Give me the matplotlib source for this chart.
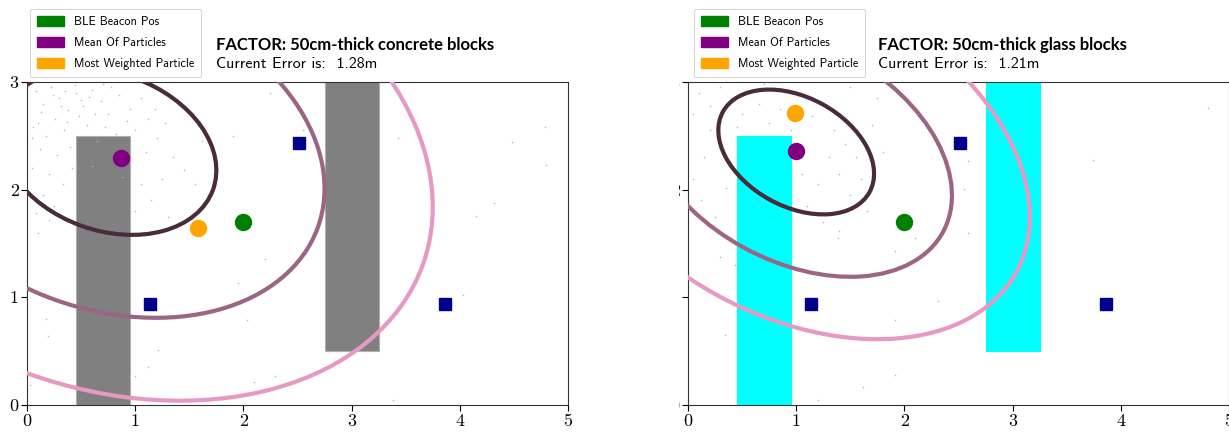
import numpy as np
import matplotlib
matplotlib.use("Agg")
import matplotlib.pyplot as plt
import matplotlib.patches as mpatches
from matplotlib.transforms import Bbox, TransformedBbox

# ---------------- data ----------------
panel_titles = ["FACTOR: 50cm-thick concrete blocks", "FACTOR: 50cm-thick glass blocks"]
panel_errors = ["Current Error is:  1.28m", "Current Error is:  1.21m"]
block_colors = ["gray", "cyan"]

# blocks: (x, y, width, height)
blocks = [(0.45, 0.0, 0.5, 2.5), (2.75, 0.5, 0.5, 2.5)]

beacons_x = [1.14, 2.51, 3.86]
beacons_y = [0.94, 2.43, 0.94]

ble_pos = (2.0, 1.70)
mean_particles = [(0.87, 2.29), (1.0, 2.36)]
most_weighted = [(1.58, 1.64), (0.99, 2.71)]

# covariance ellipses (center, covariance), drawn at n_std
ell_center = [(0.75, 2.35), (1.0, 2.35)]
ell_cov = [[[1.0, -0.17], [-0.17, 0.593]],
           [[0.518, -0.145], [-0.145, 0.336]]]
n_std = [1, 2, 3]
ell_colors = ["#4a2b3c", "#9b6684", "#e699c3"]

particles_left_x = [0.08, 0.15, 0.22, 0.30, 0.38, 0.45, 0.52, 0.60, 0.68, 0.75, 0.85, 0.95, 1.05, 1.12,
                    0.10, 0.18, 0.26, 0.34, 0.40, 0.28, 0.12, 0.05, 0.20, 0.33, 0.15, 0.08, 0.25, 0.42,
                    0.55, 0.65, 0.72, 0.82, 0.95, 1.00, 1.10, 1.20, 1.28, 1.35, 1.45, 1.25, 1.05, 1.15,
                    1.55, 1.62, 0.60, 0.88, 0.48, 0.35, 0.70, 1.40, 0.10, 0.20, 1.00, 1.30, 0.05,
                    0.13, 0.24, 0.37, 0.50, 0.63, 0.78, 0.92, 1.18, 0.06, 0.31, 0.44, 0.57,
                    3.43, 4.48, 4.79, 4.80, 4.32, 4.15, 4.03, 3.38, 2.20, 1.95, 2.03, 0.18, 0.19, 1.21,
                    1.12, 1.00, 2.10, 2.29, 0.03, 2.55, 2.25, 1.90]
particles_left_y = [2.92, 2.80, 2.95, 2.85, 2.74, 2.90, 2.78, 2.93, 2.82, 2.70, 2.88, 2.75, 2.85, 2.66,
                    2.62, 2.50, 2.66, 2.55, 2.40, 2.32, 2.38, 2.20, 2.15, 2.05, 1.95, 1.78, 1.85, 2.20,
                    2.60, 2.45, 2.58, 2.52, 2.40, 2.55, 2.35, 2.48, 2.62, 2.30, 2.18, 2.10, 2.05, 1.90,
                    2.05, 2.45, 2.22, 2.12, 2.68, 2.92, 2.98, 2.80, 1.60, 1.72, 1.80, 1.75, 2.48,
                    2.72, 2.88, 2.63, 2.83, 2.70, 2.95, 2.64, 2.75, 2.58, 2.78, 2.97, 2.86,
                    2.48, 2.44, 2.58, 2.23, 1.88, 1.76, 1.02, 0.05, 1.36, 1.13, 0.79, 0.80, 0.64, 0.51,
                    0.35, 0.27, 0.21, 0.27, 0.19, 2.55, 2.90, 2.50]
particles_right_x = [0.10, 0.20, 0.30, 0.40, 0.50, 0.58, 0.66, 0.75, 0.85, 0.95, 1.05, 1.15, 1.25, 1.35,
                     1.45, 1.55, 1.60, 1.50, 1.40, 1.30, 1.20, 1.10, 1.25, 0.30, 0.20, 0.15, 0.40, 0.35,
                     0.55, 0.62, 0.05, 0.12, 0.25, 1.70, 1.80, 1.65, 1.40, 0.45, 0.90, 1.05, 0.80, 1.75,
                     0.70, 1.50, 0.05,
                     0.30, 0.43, 0.34, 1.91, 1.39, 2.10, 1.91, 1.91, 1.62, 1.20, 2.31, 4.81, 3.74, 2.59,
                     2.55, 2.59]
particles_right_y = [2.90, 2.78, 2.95, 2.85, 2.70, 2.92, 2.80, 2.62, 2.75, 2.55, 2.88, 2.68, 2.80, 2.55,
                     2.42, 2.30, 2.10, 1.95, 2.15, 2.30, 2.05, 1.85, 1.70, 2.40, 2.55, 2.30, 2.20, 2.02,
                     2.45, 2.25, 2.10, 1.90, 1.75, 2.60, 2.35, 1.80, 1.62, 2.58, 2.20, 2.15, 1.95, 2.85,
                     2.98, 2.95, 2.70,
                     1.37, 1.30, 0.65, 1.43, 1.55, 1.55, 0.79, 0.28, 0.17, 0.05, 0.97, 2.76, 2.28, 2.27,
                     2.01, 1.60]
particles_x = [particles_left_x, particles_right_x]
particles_y = [particles_left_y, particles_right_y]

x_ticks = [0, 1, 2, 3, 4, 5]
y_ticks = [0, 1, 2, 3]
legend_labels = ["BLE Beacon Pos", "Mean Of Particles", "Most Weighted Particle"]
legend_colors = ["green", "purple", "orange"]

# ---------------- figure ----------------
W, H = 1229, 432
fig = plt.figure(figsize=(W / 100, H / 100), dpi=100)

ax_left_px = [27, 688]
ax_w_px, ax_bottom_px, ax_h_px = 541, 432 - 405, 323
title_x_px = [216, 878]
legend_x_px = [30, 694]

def cov_ellipse(ax, center, cov, k, color):
    vals, vecs = np.linalg.eigh(np.array(cov))
    order = vals.argsort()[::-1]
    vals, vecs = vals[order], vecs[:, order]
    angle = np.degrees(np.arctan2(vecs[1, 0], vecs[0, 0]))
    w, h = 2 * k * np.sqrt(vals)
    e = mpatches.Ellipse(center, w, h, angle=angle, fill=False, edgecolor=color, lw=3.0, zorder=3)
    ax.add_patch(e)

for i in range(2):
    ax = fig.add_axes([ax_left_px[i] / W, ax_bottom_px / H, ax_w_px / W, ax_h_px / H])
    for (bx, by, bw, bh) in blocks:
        ax.add_patch(mpatches.Rectangle((bx, by), bw, bh, facecolor=block_colors[i],
                                        edgecolor="#b0b0b0" if i == 0 else block_colors[i],
                                        lw=0.8, zorder=1))
    ax.scatter(particles_x[i], particles_y[i], s=1.5, color="#8fbbe3", alpha=0.8, lw=0, zorder=2)
    for k, c in zip(n_std, ell_colors):
        cov_ellipse(ax, ell_center[i], ell_cov[i], k, c)
    ax.plot(beacons_x, beacons_y, "s", color="#00008b", markersize=8.5, zorder=4, ls="none")
    ax.plot([ble_pos[0]], [ble_pos[1]], "o", color="green", markersize=11.5, zorder=5)
    ax.plot([mean_particles[i][0]], [mean_particles[i][1]], "o", color="purple", markersize=11.5, zorder=5)
    ax.plot([most_weighted[i][0]], [most_weighted[i][1]], "o", color="orange", markersize=11.5, zorder=5)

    ax.set_xlim(0, 5)
    ax.set_ylim(0, 3)
    ax.set_xticks(x_ticks)
    ax.set_yticks(y_ticks)
    ax.set_xticklabels([str(t) for t in x_ticks], fontfamily="cmr10", fontsize=13)
    ax.set_yticklabels([str(t) for t in y_ticks], fontfamily="cmr10", fontsize=13)
    ax.tick_params(direction="out", length=4, width=0.8, pad=2)
    for sp in ax.spines.values():
        sp.set_linewidth(0.8)
        sp.set_color("#333333")

    if i == 1:
        clip = TransformedBbox(Bbox([[679 / W, 0], [1.0, 1.0]]), fig.transFigure)
        for lab in ax.get_yticklabels():
            lab.set_clip_box(clip)
            lab.set_clip_on(True)

    handles = [mpatches.Patch(color=c, label=l) for c, l in zip(legend_colors, legend_labels)]
    leg = fig.legend(handles=handles, loc="upper left",
                     bbox_to_anchor=(legend_x_px[i] / W, 1 - 9 / H),
                     prop={"family": "cmss10", "size": 8.7}, frameon=True,
                     handlelength=2.2, handleheight=0.9, handletextpad=0.8,
                     labelspacing=0.72, borderpad=0.6, borderaxespad=0.0, fancybox=True)
    leg.get_frame().set_edgecolor("#cccccc")
    leg.get_frame().set_linewidth(0.8)

    fig.text(title_x_px[i] / W, 1 - 45 / H, panel_titles[i], fontfamily="Lato",
             fontweight="bold", fontsize=12, va="center", ha="left")
    fig.text(title_x_px[i] / W, 1 - 64 / H, panel_errors[i], fontfamily="cmss10",
             fontsize=11.5, va="center", ha="left")

fig.savefig("out.png", dpi=100)
